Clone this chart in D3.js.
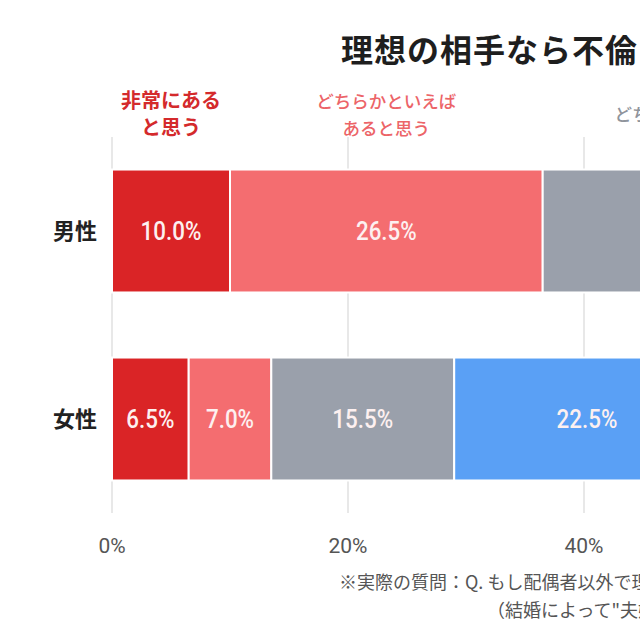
<!DOCTYPE html>
<html>
<head>
<meta charset="utf-8">
<script src="https://cdn.jsdelivr.net/npm/d3@7"></script>
<style>
  body { margin: 0; background: #fff; }
  #wrapper { width: 640px; height: 640px; overflow: hidden; }
  text { font-family: "Noto Sans CJK JP", "Noto Sans", sans-serif; }
  .value-label { font-family: Roboto, sans-serif; font-weight: 500; }
  .tick-label { font-family: Roboto, sans-serif; font-weight: 400; }
</style>
</head>
<body>
<div id="wrapper"></div>
<script>
// data
const genders = ["男性", "女性"];
const answers = ["非常にあると思う", "どちらかといえばあると思う", "どちらともいえない", "あまりないと思う", "まったくないと思う"];
const maleValues = [10.0, 26.5, 25.5, 21.0, 17.0];
const femaleValues = [6.5, 7.0, 15.5, 22.5, 48.5];
const headerLines = [["非常にある", "と思う"], ["どちらかといえば", "あると思う"], ["どちらともいえない"]];
const xTicks = [0, 20, 40, 60, 80, 100];
const titleText = "理想の相手なら不倫したいと思う？";
const noteLines = [
  "※実際の質問：Q. もし配偶者以外で理想の相手が現れたら、不倫をしたいと思いますか？",
  "（結婚によって\"夫婦\"となったパートナー以外の相手）"
];

const colors = ["#da2426", "#f46d70", "#9aa0ab", "#5aa0f5", "#2f6fcf"];

function drawChart() {
  let dimensions = {
    width: 640,
    height: 640,
    margin: { top: 137, left: 112 },
  };

  const wrapper = d3.select("#wrapper")
    .append("svg")
    .attr("width", dimensions.width)
    .attr("height", dimensions.height);

  // scales (chart is wider than the window, right side gets cut)
  const xScale = d3.scaleLinear()
    .domain([0, 100])
    .range([dimensions.margin.left, dimensions.margin.left + 1180]);

  const yScale = d3.scaleBand()
    .domain(genders)
    .range([dimensions.margin.top, 513])
    .paddingInner(0.346)
    .paddingOuter(0.173);

  // stack the rows
  const rows = genders.map((g, i) => {
    const vals = i === 0 ? maleValues : femaleValues;
    let acc = 0;
    return vals.map((v, j) => {
      const seg = { gender: g, answer: answers[j], idx: j, value: v, x0: acc, x1: acc + v };
      acc += v;
      return seg;
    });
  });
  const segments = rows.flat();

  // grid lines
  wrapper.append("g")
    .selectAll("line")
    .data(xTicks)
    .join("line")
    .attr("x1", d => xScale(d))
    .attr("x2", d => xScale(d))
    .attr("y1", dimensions.margin.top)
    .attr("y2", 513)
    .attr("stroke", "#d9d9d9")
    .attr("stroke-width", 1.2);

  // bars
  wrapper.append("g")
    .selectAll("rect")
    .data(segments)
    .join("rect")
    .attr("x", d => xScale(d.x0))
    .attr("y", d => yScale(d.gender))
    .attr("width", d => xScale(d.x1) - xScale(d.x0))
    .attr("height", yScale.bandwidth())
    .attr("fill", d => colors[d.idx])
    .attr("stroke", "#fff")
    .attr("stroke-width", 2);

  // value labels (condensed look)
  wrapper.append("g")
    .selectAll("text")
    .data(segments)
    .join("text")
    .attr("class", "value-label")
    .attr("transform", d => `translate(${xScale((d.x0 + d.x1) / 2)},${yScale(d.gender) + yScale.bandwidth() / 2 + 9}) scale(0.86,1)`)
    .attr("text-anchor", "middle")
    .attr("font-size", 26)
    .attr("fill", "#fdf0f0")
    .text(d => d.value.toFixed(1) + "%");

  // row labels
  wrapper.append("g")
    .selectAll("text")
    .data(genders)
    .join("text")
    .attr("x", 97)
    .attr("y", d => yScale(d) + yScale.bandwidth() / 2 + 8)
    .attr("text-anchor", "end")
    .attr("font-size", 22)
    .attr("font-weight", 700)
    .attr("fill", "#222")
    .text(d => d);

  // answer headers above the male bar
  const headerStyle = [
    { size: 20, weight: 700, color: "#d42a2c" },
    { size: 17.5, weight: 500, color: "#ec6468" },
    { size: 17.5, weight: 500, color: "#8f949c" },
  ];
  headerLines.forEach((lines, i) => {
    const seg = rows[0][i];
    const cx = xScale((seg.x0 + seg.x1) / 2);
    const t = wrapper.append("text")
      .attr("text-anchor", "middle")
      .attr("font-size", headerStyle[i].size)
      .attr("font-weight", headerStyle[i].weight)
      .attr("fill", headerStyle[i].color);
    const firstY = lines.length === 1 ? 121 : 108;
    lines.forEach((line, k) => {
      t.append("tspan")
        .attr("x", cx)
        .attr("y", firstY + k * 27)
        .text(line);
    });
  });

  // x tick labels
  wrapper.append("g")
    .selectAll("text")
    .data(xTicks)
    .join("text")
    .attr("class", "tick-label")
    .attr("x", d => xScale(d))
    .attr("y", 553)
    .attr("text-anchor", "middle")
    .attr("font-size", 21)
    .attr("fill", "#555")
    .text(d => d + "%");

  // title
  wrapper.append("text")
    .attr("x", 341)
    .attr("y", 62)
    .attr("font-size", 32)
    .attr("font-weight", 700)
    .attr("letter-spacing", 1)
    .attr("fill", "#1e1e1e")
    .text(titleText);

  // footnote
  wrapper.append("text")
    .attr("x", 339)
    .attr("y", 589)
    .attr("font-size", 18)
    .attr("fill", "#555")
    .text(noteLines[0]);

  wrapper.append("text")
    .attr("x", 487)
    .attr("y", 617)
    .attr("font-size", 18)
    .attr("fill", "#555")
    .text(noteLines[1]);
}
drawChart();
</script>
</body>
</html>
